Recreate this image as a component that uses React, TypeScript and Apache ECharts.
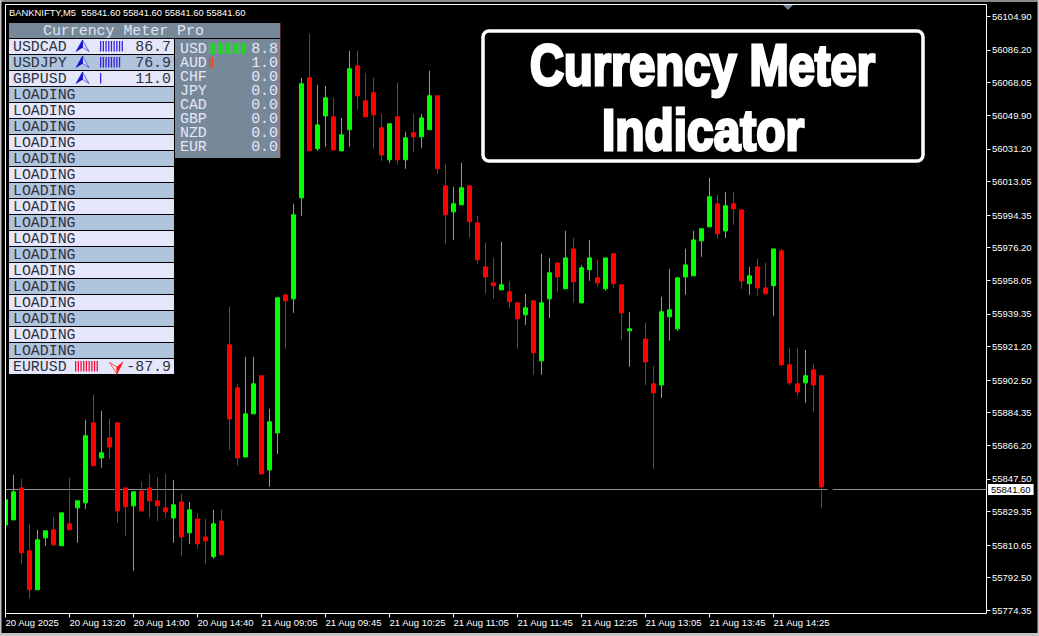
import React, { useEffect, useRef } from "react";
import * as echarts from "echarts";

const timeLabels = ["20 Aug 2025", "20 Aug 13:20", "20 Aug 14:00", "20 Aug 14:40", "21 Aug 09:05", "21 Aug 09:45", "21 Aug 10:25", "21 Aug 11:05", "21 Aug 11:45", "21 Aug 12:25", "21 Aug 13:05", "21 Aug 13:45", "21 Aug 14:25"];
const priceTicks = [56104.9, 56086.2, 56068.05, 56049.9, 56031.2, 56013.05, 55994.35, 55976.2, 55958.05, 55939.35, 55921.2, 55902.5, 55884.35, 55866.2, 55847.5, 55829.35, 55810.65, 55792.5, 55774.35];
const lastPrice = 55841.6;

const opens = [55821.9,55824.7,55842.5,55807.5,55785.8,55814.7,55819.2,55810.3,55822.5,55831.4,55834.2,55878.7,55859.2,55870.4,55878.7,55842.5,55832.5,55840.8,55842.5,55835.3,55831.4,55825.8,55834.7,55817.5,55825.2,55815.2,55804.2,55824.1,55922.1,55898.2,55859.7,55883.7,55904.9,55852.5,55873.1,55949.9,55947.7,56003.9,56070.7,56031.2,56049.5,56049.0,56030.1,56041.8,56077.4,56057.9,56062.4,56042.9,56025.1,56049.0,56025.1,56040.1,56037.9,56041.8,56060.7,56010.6,55996.1,56000.0,56010.6,55990.0,55965.5,55956.6,55952.7,55951.6,55945.5,55938.8,55946.6,55913.2,55947.7,55967.7,55953.3,55975.5,55945.5,55963.9,55959.4,55953.3,55972.8,55955.5,55929.9,null,55925.4,55900.4,55899.8,55937.7,55931.0,55959.9,55960.5,55980.0,55987.8,56000.6,55985.5,56000.6,55997.2,55956.1,55965.5,55953.8,55955.0,55974.4,55911.0,55900.4,55901.0,55908.2,55904.9];
const closes = [55835.9,55840.3,55806.4,55785.8,55813.6,55818.6,55810.8,55828.6,55819.2,55835.3,55871.5,55854.8,55862.0,55865.3,55829.7,55832.0,55840.3,55829.7,55835.3,55832.5,55829.2,55833.1,55815.2,55830.3,55811.4,55813.0,55822.5,55805.3,55880.9,55859.2,55883.7,55900.4,55850.3,55879.3,55948.3,55946.6,55994.5,56067.4,56030.1,56044.5,56059.6,56030.6,56039.0,56075.7,56060.7,56049.0,56050.1,56027.8,56045.1,56025.1,56037.3,56037.9,56048.4,56060.7,56020.1,55994.5,56000.6,56009.5,55990.6,55969.4,55959.9,55955.0,55955.5,55946.1,55936.6,55942.7,55917.7,55945.5,55962.2,55959.9,55970.5,55957.2,55965.0,55970.5,55956.6,55970.5,55956.1,55939.9,55931.0,null,55912.6,55895.4,55940.5,55941.6,55959.4,55966.6,55980.5,55986.7,56004.5,55983.9,55999.5,55997.8,55957.7,55960.5,55953.8,55950.5,55975.5,55911.0,55901.0,55895.9,55904.9,55899.8,55843.1];
const lows = [55813.6,55824.7,55800.2,55780.8,55785.8,55810.3,55810.3,55810.3,55819.2,55811.9,55830.8,55854.8,55853.7,55858.7,55823.1,55815.8,55796.3,55829.7,55825.8,55824.1,55825.8,55811.9,55804.8,55811.4,55808.6,55800.2,55803.1,55804.8,55863.5,55854.8,55859.7,55883.7,55850.3,55843.1,55861.4,55919.9,55939.9,55993.9,56030.1,56030.1,56032.3,56030.6,56030.1,56032.3,56052.9,56049.0,56031.2,56024.5,56023.4,56022.3,56020.1,56029.5,56031.7,56041.8,56017.3,55978.3,55980.5,56000.0,55981.6,55967.2,55950.5,55947.7,55952.7,55942.7,55919.9,55933.2,55905.4,55905.4,55937.1,55951.6,55953.3,55945.5,55945.5,55957.7,55954.4,55952.2,55953.8,55925.0,55909.9,null,55899.8,55853.1,55892.6,55924.4,55929.9,55949.9,55960.5,55971.1,55987.8,55981.1,55981.6,55988.9,55953.3,55949.9,55949.4,55950.5,55938.2,55910.4,55899.8,55893.7,55889.8,55884.8,55831.4];
const highs = [55837.0,55849.8,55847.5,55822.5,55819.2,55818.6,55826.4,55828.6,55848.1,55835.3,55880.4,55894.3,55885.4,55880.9,55878.7,55842.5,55840.8,55845.9,55850.3,55848.6,55850.3,55847.0,55839.2,55834.7,55828.6,55825.2,55830.3,55830.3,55943.3,55900.4,55915.4,55915.4,55904.9,55886.5,55948.3,55950.5,56000.6,56070.7,56095.2,56066.8,56066.2,56059.6,56048.4,56085.7,56085.7,56073.5,56070.7,56050.7,56045.1,56067.9,56040.6,56050.7,56050.7,56074.6,56060.7,56022.9,56010.0,56023.4,56010.6,55993.9,55978.9,55970.5,55979.4,55957.7,55945.5,55950.5,55946.6,55972.8,55970.5,55967.7,55985.5,55981.6,55966.6,55980.5,55969.4,55970.5,55972.8,55955.5,55940.5,null,55934.3,55910.4,55948.8,55964.4,55959.9,55975.5,55985.5,55986.7,56015.0,56005.6,56007.3,56007.3,55997.2,55965.5,55970.0,55967.7,55975.5,55975.5,55920.5,55920.5,55919.3,55911.5,55905.4];

const rowNames = ["USDCAD", "USDJPY", "GBPUSD", "LOADING", "LOADING", "LOADING", "LOADING", "LOADING", "LOADING", "LOADING", "LOADING", "LOADING", "LOADING", "LOADING", "LOADING", "LOADING", "LOADING", "LOADING", "LOADING", "LOADING", "EURUSD"];
const rowValues: (string | null)[] = ["86.7", "76.9", "11.0", null, null, null, null, null, null, null, null, null, null, null, null, null, null, null, null, null, "-87.9"];
const rowBars = [9, 8, 1, 0, 0, 0, 0, 0, 0, 0, 0, 0, 0, 0, 0, 0, 0, 0, 0, 0, 9];
const currencyNames = ["USD", "AUD", "CHF", "JPY", "CAD", "GBP", "NZD", "EUR"];
const currencyValues = ["8.8", "1.0", "0.0", "0.0", "0.0", "0.0", "0.0", "0.0"];
const currencyBars = [14, 2, 0, 0, 0, 0, 0, 0];

const SANS = '"Liberation Sans", sans-serif';
const MONO = '"Liberation Mono", monospace';
const xMax = 122.625;

function buildPanel(): any[] {
  const g: any[] = [];
  const rect = (x: number, y: number, width: number, height: number, fill: string, z = 100) =>
    g.push({ type: "rect", z, shape: { x, y, width, height }, style: { fill } });
  const text = (x: number, y: number, t: string, fill: string, align = "left", size = 14.9) =>
    g.push({ type: "text", z: 101, x, y, style: { text: t, fill, font: `${size}px ${MONO}`, textAlign: align, textVerticalAlign: "middle" } });

  // window edge
  rect(0, 0, 1039, 2, "#8c8c8c");
  rect(0, 0, 1.5, 636, "#c4c4c4");
  rect(1037.5, 0, 1.5, 636, "#c4c4c4");
  rect(0, 633, 1039, 3, "#c4c4c4");

  // left frame, which hides the half of the first bar that lies outside it
  rect(1.5, 2, 3.5, 631, "#000", 40);
  rect(5, 4.5, 1, 609, "#fff", 41);

  // title
  rect(9, 23, 271, 15, "#778899");
  text(43, 30.5, "Currency Meter Pro", "#e0e4f0");

  // left rows
  rowNames.forEach((name, i) => {
    const y = 39 + i * 16;
    rect(9, y, 165, 15, i % 2 === 0 ? "#E6E6FA" : "#B0C4DE");
    text(13, y + 7.5, name, "#2c3340");
    const val = rowValues[i];
    if (val !== null) text(171, y + 7.5, val, "#2c3340", "right");
    const n = rowBars[i];
    if (n > 0) {
      const up = val !== null && !val.startsWith("-");
      const x0 = up ? 100 : 75;
      const col = up ? "#3a22e0" : "#ff0a3c";
      for (let k = 0; k < n; k++) rect(x0 + k * 2.7, y + 2, 1.3, 10.5, col);
      if (up) {
        g.push({ type: "polygon", z: 101, shape: { points: [[82.5, y + 1], [89, y + 12.5], [82.5, y + 8.5]] }, style: { fill: "#d8d8f4", stroke: "#4a4ae0", lineWidth: 0.8 } });
        g.push({ type: "polygon", z: 101, shape: { points: [[82.5, y + 1], [76, y + 12.5], [82.5, y + 8.5]] }, style: { fill: "#1414c8", stroke: "#1414c8", lineWidth: 0.6 } });
      } else {
        g.push({ type: "polygon", z: 101, shape: { points: [[109.5, y + 3.5], [117, y + 8], [117, y + 15]] }, style: { fill: "#f4e6f0", stroke: "#f03030", lineWidth: 0.8 } });
        g.push({ type: "polygon", z: 101, shape: { points: [[123, y + 3], [117, y + 8], [117, y + 15]] }, style: { fill: "#ff1010", stroke: "#ff1010", lineWidth: 0.6 } });
      }
    }
  });

  // right panel
  rect(175, 39, 105, 119, "#778899");
  rect(280, 23, 1, 135, "#4a2020");
  currencyNames.forEach((name, i) => {
    const y = 48.5 + i * 14;
    text(180, y, name, "#E6E6FA");
    text(278, y, currencyValues[i], "#E6E6FA", "right");
    const col = i === 0 ? "#19e619" : "#e8481e";
    for (let k = 0; k < currencyBars[i]; k++) rect(209 + k * 2.7, y - 5.5, 1.4, 11, col);
  });

  // shift marker
  g.push({ type: "polygon", z: 50, shape: { points: [[783, 5], [793, 5], [788, 10]] }, style: { fill: "#708090" } });

  // headline box
  g.push({ type: "rect", z: 100, shape: { x: 483, y: 31, width: 440, height: 130, r: 6 }, style: { fill: "#000", stroke: "#fff", lineWidth: 3.5 } });
  const head = (t: string, cx: number, cy: number, sx: number) =>
    g.push({ type: "text", z: 101, x: cx, y: cy, scaleX: sx, style: { text: t, fill: "#fff", stroke: "#fff", lineWidth: 3, font: `bold 57px ${SANS}`, textAlign: "center", textVerticalAlign: "middle" } });
  head("Currency Meter", 702.5, 65, 0.825);
  head("Indicator", 703, 129.5, 0.84);

  // chart title
  g.push({ type: "text", z: 60, x: 9, y: 12.5, style: { text: "BANKNIFTY,M5  55841.60 55841.60 55841.60 55841.60", fill: "#fff", font: `9.4px ${SANS}`, textVerticalAlign: "middle" } });
  return g;
}

export default function App() {
  const ref = useRef<HTMLDivElement>(null);
  useEffect(() => {
    const chart = echarts.init(ref.current!, undefined, { renderer: "svg" });
    const candles = opens
      .map((o, i) => (o === null ? null : [i, o, closes[i], lows[i], highs[i]]))
      .filter((d) => d !== null);
    chart.setOption({
      animation: false,
      backgroundColor: "#000",
      grid: { left: 5.5, right: 52.5, top: 4.5, bottom: 22.5, show: true, backgroundColor: "#000", borderColor: "#fff", borderWidth: 1 },
      xAxis: {
        type: "value",
        min: 0,
        max: xMax,
        splitLine: { show: false },
        axisLine: { show: false, onZero: false },
        axisTick: { show: true, length: 4, lineStyle: { color: "#fff" }, customValues: timeLabels.map((_, i) => i * 8) },
        axisLabel: {
          color: "#fff",
          align: "left",
          margin: 4,
          fontSize: 9.5,
          fontFamily: SANS,
          hideOverlap: false,
          showMaxLabel: true,
          customValues: timeLabels.map((_, i) => i * 8),
          formatter: (v: number) => timeLabels[Math.round(v / 8)] ?? "",
        },
      },
      yAxis: {
        type: "value",
        position: "right",
        min: 55772.6,
        max: 56111.5,
        scale: true,
        splitLine: { show: false },
        axisLine: { show: false, onZero: false },
        axisTick: { show: true, length: 4, lineStyle: { color: "#fff" }, customValues: priceTicks },
        axisLabel: {
          color: "#fff",
          margin: 5.5,
          fontSize: 9.5,
          fontFamily: SANS,
          customValues: priceTicks,
          formatter: (v: number) => v.toFixed(2),
        },
      },
      graphic: buildPanel(),
      series: [
        {
          type: "line",
          z: 1,
          showSymbol: false,
          silent: true,
          connectNulls: false,
          lineStyle: { color: "#8d939c", width: 1 },
          data: [[0, lastPrice], [102.75, lastPrice], ["-", "-"], [103.4, lastPrice], [xMax, lastPrice]],
          endLabel: {
            show: true,
            formatter: lastPrice.toFixed(2),
            color: "#000",
            backgroundColor: "#fff",
            padding: [1, 3, 0, 3],
            distance: 1.5,
            fontSize: 9.5,
            lineHeight: 10,
            fontFamily: SANS,
          },
        },
        {
          type: "candlestick",
          z: 3,
          barWidth: 4,
          silent: true,
          itemStyle: { color: "#00ff00", color0: "#ff0000", borderColor: "#00ff00", borderColor0: "#ff0000", borderWidth: 1 },
          data: candles,
        },
      ],
    });
    return () => chart.dispose();
  }, []);
  return <div ref={ref} style={{ position: "absolute", left: 0, top: 0, width: 1039, height: 636 }} />;
}
